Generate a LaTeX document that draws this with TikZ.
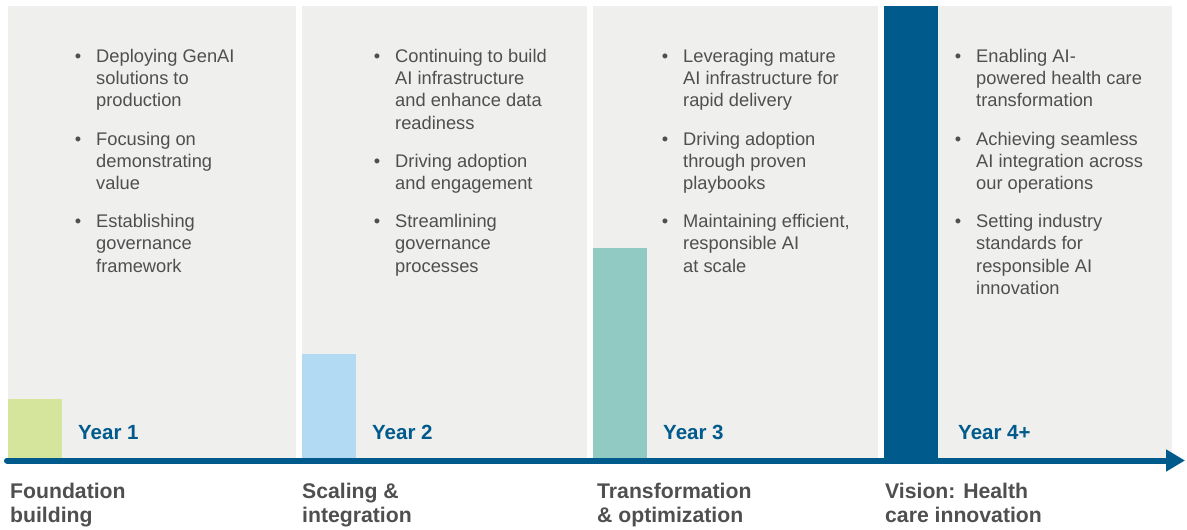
\documentclass[tikz,border=0pt]{standalone}
\usepackage{fontspec}
\setmainfont{Liberation Sans}
\usetikzlibrary{arrows.meta}
\definecolor{panelgray}{HTML}{EFEFEE}
\definecolor{bargreen}{HTML}{D5E59B}
\definecolor{barblue}{HTML}{B3DAF3}
\definecolor{barteal}{HTML}{91CAC3}
\definecolor{darkblue}{HTML}{005A8B}
\definecolor{txtgray}{HTML}{4F4F4F}
\newcommand{\blines}[1]{\begin{tabular}[t]{@{}l@{}}#1\end{tabular}}
\tikzset{
  panel/.style={fill=panelgray, draw=none},
  bar/.style={draw=none},
  itemtxt/.style={anchor=base west, inner sep=0pt, text=txtgray,
    font=\fontsize{18.3}{22.2}\selectfont},
  bul/.style={anchor=base, inner sep=0pt, text=txtgray,
    font=\fontsize{18.3}{22.2}\selectfont},
  yearlbl/.style={anchor=base west, inner sep=0pt, text=darkblue,
    font=\fontsize{20.5}{24}\selectfont\bfseries},
  phaselbl/.style={anchor=base west, inner sep=0pt, text=txtgray,
    font=\fontsize{21.2}{24}\selectfont\bfseries},
}
\begin{document}
\begin{tikzpicture}[x=1pt,y=-1pt]
\useasboundingbox[fill=white] (0,0) rectangle (1187,530);
% panels
\fill[panel] (8,6) rectangle (296,458);
\fill[panel] (302,6) rectangle (587,458);
\fill[panel] (593,6) rectangle (878,458);
\fill[panel] (884,6) rectangle (1172,458);
% bars
\fill[bar, bargreen] (8,399) rectangle (62,458);
\fill[bar, barblue] (302,354) rectangle (356,458);
\fill[bar, barteal] (593,248) rectangle (647,458);
\fill[bar, darkblue] (884,6) rectangle (938,458);
% axis
\coordinate (axL) at (7,460.5);
\coordinate (axR) at (1185,460.5);
\draw[darkblue, line width=6pt, line cap=round,
  -{Triangle[length=19pt,width=21pt]}] (axL) -- (axR);
% panel 1
\node[bul] (b1a) at (78,62.5) {\textbullet};
\node[itemtxt] (t1a) at (96,62.5) {\blines{Deploying GenAI\\solutions to\\production}};
\node[bul] (b1b) at (78,145.1) {\textbullet};
\node[itemtxt] (t1b) at (96,145.1) {\blines{Focusing on\\demonstrating\\value}};
\node[bul] (b1c) at (78,227.7) {\textbullet};
\node[itemtxt] (t1c) at (96,227.7) {\blines{Establishing\\governance\\framework}};
% panel 2
\node[bul] (b2a) at (377,62.5) {\textbullet};
\node[itemtxt] (t2a) at (395,62.5) {\blines{Continuing to build\\AI infrastructure\\and enhance data\\readiness}};
\node[bul] (b2b) at (377,167.3) {\textbullet};
\node[itemtxt] (t2b) at (395,167.3) {\blines{Driving adoption\\and engagement}};
\node[bul] (b2c) at (377,227.7) {\textbullet};
\node[itemtxt] (t2c) at (395,227.7) {\blines{Streamlining\\governance\\processes}};
% panel 3
\node[bul] (b3a) at (665,62.5) {\textbullet};
\node[itemtxt] (t3a) at (683,62.5) {\blines{Leveraging mature\\AI infrastructure for\\rapid delivery}};
\node[bul] (b3b) at (665,145.1) {\textbullet};
\node[itemtxt] (t3b) at (683,145.1) {\blines{Driving adoption\\through proven\\playbooks}};
\node[bul] (b3c) at (665,227.7) {\textbullet};
\node[itemtxt] (t3c) at (683,227.7) {\blines{Maintaining efficient,\\responsible AI\\at scale}};
% panel 4
\node[bul] (b4a) at (958,62.5) {\textbullet};
\node[itemtxt] (t4a) at (976,62.5) {\blines{Enabling AI-\\powered health care\\transformation}};
\node[bul] (b4b) at (958,145.1) {\textbullet};
\node[itemtxt] (t4b) at (976,145.1) {\blines{Achieving seamless\\AI integration across\\our operations}};
\node[bul] (b4c) at (958,227.7) {\textbullet};
\node[itemtxt] (t4c) at (976,227.7) {\blines{Setting industry\\standards for\\responsible AI\\innovation}};
% year labels
\node[yearlbl] (y1) at (78,439) {Year 1};
\node[yearlbl] (y2) at (372,439) {Year 2};
\node[yearlbl] (y3) at (663,439) {Year 3};
\node[yearlbl] (y4) at (958,439) {Year 4+};
% phase labels
\node[phaselbl] (ph1) at (10,498.5) {\blines{Foundation\\building}};
\node[phaselbl] (ph2) at (302,498.5) {\blines{Scaling \&\\integration}};
\node[phaselbl] (ph3) at (597,498.5) {\blines{Transformation\\\& optimization}};
\node[phaselbl] (ph4) at (885,498.5) {\blines{Vision: Health\\care innovation}};
\end{tikzpicture}
\end{document}
